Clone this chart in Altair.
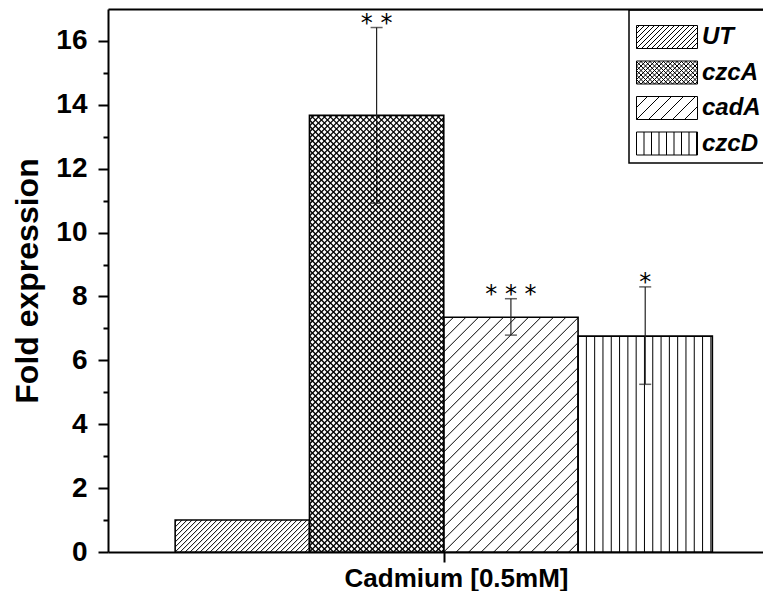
import altair as alt
import pandas as pd
import numpy as np

# ---------------- data ----------------
categories = ["UT", "czcA", "cadA", "czcD"]
fold_expression = [1.0, 13.67, 7.35, 6.76]
err_low = [np.nan, 10.92, 6.79, 5.25]
err_high = [np.nan, 16.42, 7.93, 8.30]
significance = ["", "* *", "* * *", "*"]
y_tick_values = list(range(0, 17))
x_title = "Cadmium [0.5mM]"
y_title = "Fold expression"

# ---------------- layout / style ----------------
W, H = 655, 543
XMAX, YMAX = 4.877, 17.0
sx, sy = W / XMAX, H / YMAX
FONT = "Liberation Sans"

# hatch styles: (kind, spacing px, line width)
bar_hatch = {"UT": ("/", 5.0, 1.0), "czcA": ("x", 6.0, 1.3),
             "cadA": ("/", 12.5, 1.0), "czcD": ("|", 8.3, 1.0)}
legend_hatch = {"UT": ("/", 5.0), "czcA": ("x", 4.5),
                "cadA": ("/", 12.0), "czcD": ("|", 7.5)}


def segments(kind, w, h, s):
    segs = []
    if kind in ("/", "x"):
        for k in range(int(np.floor(-h / s)), int(np.ceil(w / s)) + 1):
            c = k * s
            xa, xb = max(0.0, c), min(w, c + h)
            if xb - xa > 0.3:
                segs.append((xa, xa - c, xb, xb - c))
    if kind in ("\\", "x"):
        for k in range(0, int(np.ceil((w + h) / s)) + 1):
            c = k * s
            xa, xb = max(0.0, c - h), min(w, c)
            if xb - xa > 0.3:
                segs.append((xa, c - xa, xb, c - xb))
    if kind == "|":
        k = 1
        while k * s < w - 0.5:
            segs.append((k * s, 0.0, k * s, h))
            k += 1
    return segs


bars = pd.DataFrame({
    "cat": categories,
    "x0": [i + 0.5 for i in range(len(categories))],
    "x1": [i + 1.5 for i in range(len(categories))],
    "xc": [i + 1.0 for i in range(len(categories))],
    "fold": fold_expression,
    "lo": err_low,
    "hi": err_high,
    "sig": significance,
})

rows = []
for _, r in bars.iterrows():
    kind, s, lw = bar_hatch[r["cat"]]
    w = (r["x1"] - r["x0"]) * sx
    h = r["fold"] * sy
    for (xa, ya, xb, yb) in segments(kind, w, h, s):
        rows.append({"hx": r["x0"] + xa / sx, "hy": ya / sy,
                     "hx2": r["x0"] + xb / sx, "hy2": yb / sy, "sw": lw})
hatch_df = pd.DataFrame(rows)

# legend symbol paths (unit = sqrt(size)/2 px)
SYM_SIZE = 400
R = np.sqrt(SYM_SIZE) / 2
HW, HH = 30.5, 11.5


def legend_path(kind, s):
    p = [f"M{-HW/R:.3f},{-HH/R:.3f}H{HW/R:.3f}V{HH/R:.3f}H{-HW/R:.3f}Z"]
    for (xa, ya, xb, yb) in segments(kind, 2 * HW, 2 * HH, s):
        p.append(f"M{(xa-HW)/R:.3f},{(HH-ya)/R:.3f}L{(xb-HW)/R:.3f},{(HH-yb)/R:.3f}")
    return "".join(p)


shape_paths = [legend_path(*legend_hatch[c]) for c in categories]
legend_df = pd.DataFrame({"cat": categories})

# ---------------- scales / axes ----------------
xscale = alt.Scale(domain=[0, XMAX], nice=False, zero=False)
yscale = alt.Scale(domain=[0, YMAX], nice=False)

yaxis = alt.Axis(
    values=y_tick_values,
    labelExpr="datum.value % 2 === 0 ? datum.label : ''",
    tickSize={"condition": {"test": "datum.value % 2 === 0", "value": 10}, "value": 5},
    grid=False, domainColor="black", domainWidth=2, tickColor="black", tickWidth=2,
    labelFont=FONT, labelFontSize=28, labelFontWeight="bold", labelColor="black",
    labelPadding=11, title=y_title, titleFont=FONT, titleFontSize=32,
    titleFontWeight="bold", titleColor="black", titlePadding=11,
)

xaxis_bottom = alt.Axis(
    values=[2.5], labels=False, tickSize=10, tickWidth=2, tickColor="black",
    domainColor="black", domainWidth=2, grid=False, title=x_title,
    titleFont=FONT, titleFontSize=26, titleFontWeight="bold", titleColor="black",
    titlePadding=2, titleX=348,
)
xaxis_top = alt.Axis(
    orient="top", ticks=False, labels=False, domainColor="black",
    domainWidth=2, grid=False, title=None,
)


def Y(field):
    return alt.Y(f"{field}:Q", scale=yscale, axis=yaxis)


base = alt.Chart(bars)

bar_fill = base.mark_rect(fill="white", stroke=None).encode(
    x=alt.X("x0:Q", scale=xscale, axis=xaxis_bottom), x2="x1:Q",
    y=Y("fold"), y2=alt.datum(0))

hatch = alt.Chart(hatch_df).mark_rule(color="black").encode(
    x=alt.X("hx:Q", scale=xscale, axis=None), x2="hx2:Q",
    y=Y("hy"), y2="hy2:Q",
    strokeWidth=alt.StrokeWidth("sw:Q", scale=None, legend=None))

bar_outline = base.mark_rect(fill="transparent", stroke="black", strokeWidth=1.6).encode(
    x=alt.X("x0:Q", scale=xscale, axis=xaxis_top), x2="x1:Q",
    y=Y("fold"), y2=alt.datum(0))

err = base.transform_filter("isValid(datum.hi)").mark_rule(
    color="#222222", strokeWidth=1.2).encode(
    x=alt.X("xc:Q", scale=xscale, axis=None), y=Y("lo"), y2="hi:Q")

cap_hi = base.transform_filter("isValid(datum.hi)").mark_tick(
    orient="horizontal", size=12, thickness=1.5, color="#222222").encode(
    x=alt.X("xc:Q", scale=xscale, axis=None), y=Y("hi"))
cap_lo = base.transform_filter("isValid(datum.lo)").mark_tick(
    orient="horizontal", size=12, thickness=1.5, color="#222222").encode(
    x=alt.X("xc:Q", scale=xscale, axis=None), y=Y("lo"))

stars = base.transform_filter("isValid(datum.hi)").mark_text(
    font="DejaVu Sans", fontSize=24, baseline="alphabetic", align="center", dy=3,
    color="black").encode(
    x=alt.X("xc:Q", scale=xscale, axis=None), y=Y("hi"), text="sig:N")

legend_pts = alt.Chart(legend_df).mark_point(
    opacity=0, size=SYM_SIZE, color="black", filled=False).encode(
    shape=alt.Shape(
        "cat:N",
        scale=alt.Scale(domain=categories, range=shape_paths),
        legend=alt.Legend(
            orient="none", legendX=521, legendY=1, title=" ",
            titleFontSize=4, titlePadding=5, padding=6,
            strokeColor="black", symbolSize=SYM_SIZE, symbolOpacity=1,
            symbolStrokeColor="black", symbolStrokeWidth=1,
            symbolFillColor="transparent", symbolOffset=20, labelOffset=23,
            rowPadding=7.5, labelFont=FONT, labelFontSize=24,
            labelFontStyle="italic", labelFontWeight="bold",
            labelColor="black", labelLimit=0,
        ),
    ))

chart = alt.layer(
    bar_fill, hatch, bar_outline, err, cap_hi, cap_lo, stars, legend_pts
).resolve_axis(x="independent").properties(
    width=W, height=H,
    autosize=alt.AutoSizeParams(type="none"),
    padding={"left": 100, "top": 1, "right": 0, "bottom": 39},
).configure_view(stroke=None).configure_legend(strokeWidth=1.5)

chart.save("out.html", embed_options={"renderer": "svg", "actions": False})
